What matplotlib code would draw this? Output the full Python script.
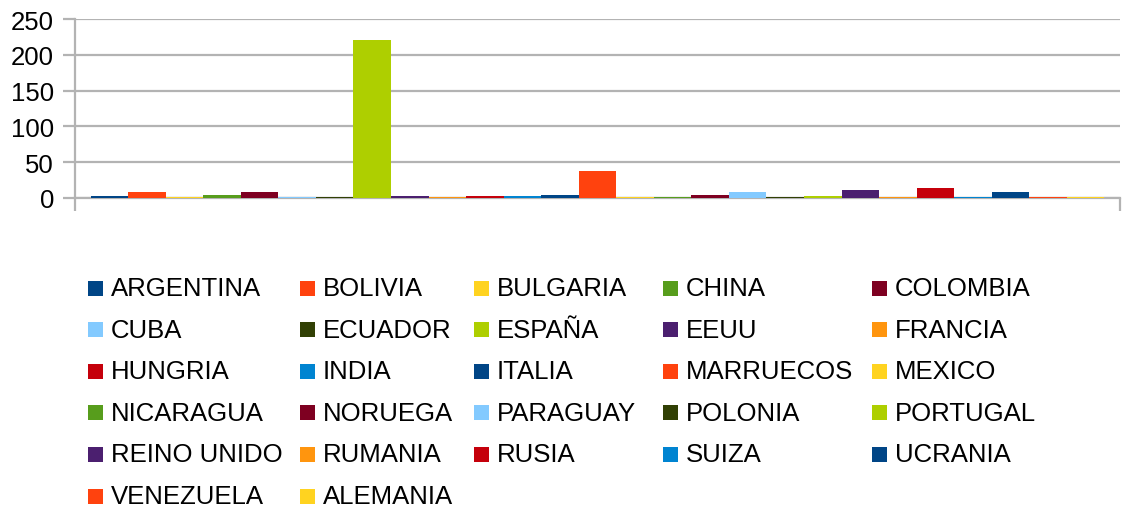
import matplotlib.pyplot as plt
from matplotlib.patches import Rectangle

plt.rcParams['font.family'] = ['Liberation Sans', 'DejaVu Sans']

# one category, one bar per country
paises = ['ARGENTINA', 'BOLIVIA', 'BULGARIA', 'CHINA', 'COLOMBIA', 'CUBA',
          'ECUADOR', 'ESPAÑA', 'EEUU', 'FRANCIA', 'HUNGRIA', 'INDIA',
          'ITALIA', 'MARRUECOS', 'MEXICO', 'NICARAGUA', 'NORUEGA', 'PARAGUAY',
          'POLONIA', 'PORTUGAL', 'REINO UNIDO', 'RUMANIA', 'RUSIA', 'SUIZA',
          'UCRANIA', 'VENEZUELA', 'ALEMANIA']
valores = [3, 8, 1, 4, 9, 2, 2, 221, 3, 2, 3, 3, 4, 38, 1, 1, 4, 8, 1, 3,
           11, 2, 14, 2, 8, 1, 1]
paleta = ['#004586', '#ff420e', '#ffd320', '#579d1c', '#7e0021', '#83caff',
          '#314004', '#aecf00', '#4b1f6f', '#ff950e', '#c5000b', '#0084d1']
yticks = [0, 50, 100, 150, 200, 250]

W, H = 1123, 510
fig = plt.figure(figsize=(W / 100, H / 100), dpi=100)
ax = fig.add_axes([75 / W, 1 - 199 / H, 1045 / W, 179 / H])

n = len(paises)
grupo = 0.970
w = grupo / n
inicio = -grupo / 2
colores = [paleta[i % len(paleta)] for i in range(n)]
for i, (p, v) in enumerate(zip(paises, valores)):
    ax.bar(inicio + i * w, v, width=w, align='edge', color=colores[i], zorder=3)

ax.set_xlim(-0.5, 0.5)
ax.set_ylim(0, 250)
ax.set_yticks(yticks)
ax.set_xticks([-0.5, 0.5])
ax.set_xticklabels(['', ''])
ax.grid(axis='y', color='#b3b3b3', linewidth=1.6, zorder=0)
for s in ['top', 'right']:
    ax.spines[s].set_visible(False)
for s in ['left', 'bottom']:
    ax.spines[s].set_color('#b3b3b3')
    ax.spines[s].set_linewidth(1.6)
ax.spines['bottom'].set_zorder(2)
ax.tick_params(axis='both', colors='#b3b3b3', width=1.6, length=9,
               labelsize=18.5, labelcolor='black', pad=6)

# legend laid out row by row, 5 columns
col_x = [88, 300, 474, 663, 872]
fila0, paso = 289, 41.6
for i, p in enumerate(paises):
    r, c = divmod(i, 5)
    x = col_x[c]
    y = fila0 + r * paso
    fig.add_artist(Rectangle(((x) / W, 1 - (y + 7.5) / H), 15 / W, 15 / H,
                             transform=fig.transFigure, color=colores[i], lw=0))
    fig.text((x + 23) / W, 1 - y / H, p, fontsize=18.5, va='center',
             ha='left', color='black')

fig.savefig('out.png', dpi=100)
